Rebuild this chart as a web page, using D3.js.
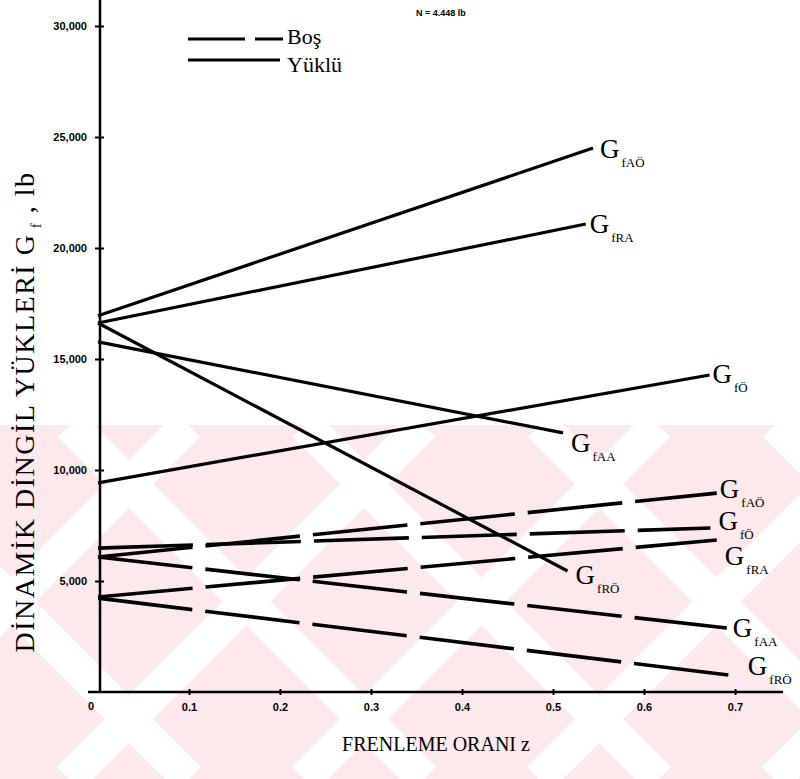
<!DOCTYPE html>
<html>
<head>
<meta charset="utf-8">
<script src="https://cdn.jsdelivr.net/npm/d3@7"></script>
<style>
  body { margin: 0; background: #fff; }
  svg { display: block; }
  .tick text { font-family: "Liberation Sans Narrow", "Arial Narrow", "Liberation Sans", sans-serif; font-weight: bold; font-size: 11px; fill: #000; }
  .serif { font-family: "Liberation Serif", "Times New Roman", serif; fill: #000; }
</style>
</head>
<body>
<div id="chart"></div>
<script>
// values (lb), z = braking ratio
const curveSubs = ["fAÖ", "fRA", "fÖ", "fAA", "fRÖ"];
const yukluStart = [16950, 16620, 9420, 15770, 16620];
const yukluEndZ = [0.544, 0.536, 0.672, 0.511, 0.516];
const yukluEnd = [24500, 21080, 14280, 11670, 5450];
const bosStart = [6080, 4280, 6480, 6080, 4230];
const bosEndZ = [0.680, 0.680, 0.673, 0.691, 0.702];
const bosEnd = [8960, 6850, 7390, 2880, 720];

const yTicks = [5000, 10000, 15000, 20000, 25000, 30000];
const xTicks = [0.1, 0.2, 0.3, 0.4, 0.5, 0.6, 0.7];

// label offsets from line ends (px)
const yukluLab = [[7, 10], [4, 9], [3, 8], [8, 19], [8, 13]];
const bosLab = [[3, 5], [8, 25], [8, 2], [6, 9], [11, -1]];

const W = 800, H = 779;
const svg = d3.select("#chart").append("svg").attr("width", W).attr("height", H);

// pink watermark in the lower half of the scan
const wm = svg.append("g");
wm.append("clipPath").attr("id", "wmclip").append("rect")
  .attr("x", 0).attr("y", 425).attr("width", W).attr("height", H - 425);
const wmg = wm.append("g").attr("clip-path", "url(#wmclip)");
wmg.append("rect").attr("x", 0).attr("y", 425).attr("width", W).attr("height", H - 425).attr("fill", "#fde8ec");
for (let c = -400; c < 1200; c += 235) {
  wmg.append("line").attr("x1", c).attr("y1", 425).attr("x2", c + 354).attr("y2", 779)
    .attr("stroke", "#fff").attr("stroke-width", 34);
  wmg.append("line").attr("x1", c + 118).attr("y1", 425).attr("x2", c + 118 - 354).attr("y2", 779)
    .attr("stroke", "#fff").attr("stroke-width", 34);
}

const x = d3.scaleLinear().domain([0, 0.7]).range([98, 735]);
const y = d3.scaleLinear().domain([0, 30000]).range([692, 26]);
const x0 = x(0) + 2;

// y axis
const ya = svg.append("g").attr("transform", "translate(" + x0 + ",0)")
  .call(d3.axisLeft(y).tickValues(yTicks).tickFormat(d3.format(",")).tickSize(5).tickPadding(8));
ya.select(".domain").remove();
ya.selectAll(".tick line").attr("x1", 4).attr("x2", -5).attr("stroke", "#000").attr("stroke-width", 2);
svg.append("line").attr("x1", x0).attr("y1", 0).attr("x2", x0).attr("y2", y(0))
  .attr("stroke", "#000").attr("stroke-width", 2.5);

// x axis
const xa = svg.append("g").attr("transform", "translate(0," + y(0) + ")")
  .call(d3.axisBottom(x).tickValues(xTicks).tickFormat(d3.format(".1f")).tickSize(3).tickPadding(8));
xa.select(".domain").remove();
xa.selectAll(".tick line").attr("y1", -3).attr("y2", 3).attr("stroke", "#000").attr("stroke-width", 2);
xa.append("text").attr("x", x(0) - 7).attr("y", 18).attr("text-anchor", "middle")
  .style("font-family", "'Liberation Sans Narrow','Arial Narrow','Liberation Sans',sans-serif")
  .style("font-weight", "bold").style("font-size", "11px").attr("fill", "#000").text("0");
svg.append("line").attr("x1", x(0) - 10).attr("y1", y(0)).attr("x2", 783).attr("y2", y(0))
  .attr("stroke", "#000").attr("stroke-width", 2.5);

// curves
const line = d3.line().x(d => x(d[0])).y(d => y(d[1]));
const curves = svg.append("g");
curveSubs.forEach((s, i) => {
  curves.append("path").datum([[0, yukluStart[i]], [yukluEndZ[i], yukluEnd[i]]])
    .attr("d", line).attr("fill", "none").attr("stroke", "#000").attr("stroke-width", 3.2);
  curves.append("path").datum([[0, bosStart[i]], [bosEndZ[i], bosEnd[i]]])
    .attr("d", line).attr("fill", "none").attr("stroke", "#000").attr("stroke-width", 3.6)
    .attr("stroke-dasharray", "95,13");
});

function glabel(px, py, sub) {
  const t = svg.append("text").attr("class", "serif").attr("x", px).attr("y", py);
  t.append("tspan").style("font-size", "27px").text("G");
  t.append("tspan").attr("dx", 2).attr("dy", 9).style("font-size", "13px").text(sub);
}
curveSubs.forEach((s, i) => {
  glabel(x(yukluEndZ[i]) + yukluLab[i][0], y(yukluEnd[i]) + yukluLab[i][1], s);
  glabel(x(bosEndZ[i]) + bosLab[i][0], y(bosEnd[i]) + bosLab[i][1], s);
});

// legend
const lg = svg.append("g");
lg.append("line").attr("x1", 188).attr("y1", 39).attr("x2", 283).attr("y2", 39)
  .attr("stroke", "#000").attr("stroke-width", 3).attr("stroke-dasharray", "57,10,28");
lg.append("line").attr("x1", 188).attr("y1", 60).attr("x2", 280).attr("y2", 60)
  .attr("stroke", "#000").attr("stroke-width", 3);
lg.append("text").attr("class", "serif").attr("x", 287).attr("y", 44)
  .style("font-family", "'Liberation Serif','Times New Roman',serif").style("font-size", "22px").text("Boş");
lg.append("text").attr("class", "serif").attr("x", 287).attr("y", 72)
  .style("font-family", "'Liberation Serif','Times New Roman',serif").style("font-size", "22px").text("Yüklü");

svg.append("text").attr("x", 416).attr("y", 16)
  .style("font-family", "'Liberation Sans Narrow','Arial Narrow','Liberation Sans',sans-serif")
  .style("font-weight", "bold").style("font-size", "9px").text("N = 4.448 lb");

// axis titles
const yt = svg.append("text").attr("class", "serif")
  .attr("transform", "translate(34,412) rotate(-90)").attr("text-anchor", "middle")
  .style("font-size", "28px").style("letter-spacing", "1.5px");
yt.append("tspan").text("DİNAMİK DİNGİL YÜKLERİ G");
yt.append("tspan").attr("dy", 7).style("font-size", "15px").text(" f");
yt.append("tspan").attr("dy", -7).text(" , lb");

svg.append("text").attr("class", "serif").attr("x", 436).attr("y", 751)
  .attr("text-anchor", "middle").style("font-size", "20px").text("FRENLEME ORANI z");
</script>
</body>
</html>
